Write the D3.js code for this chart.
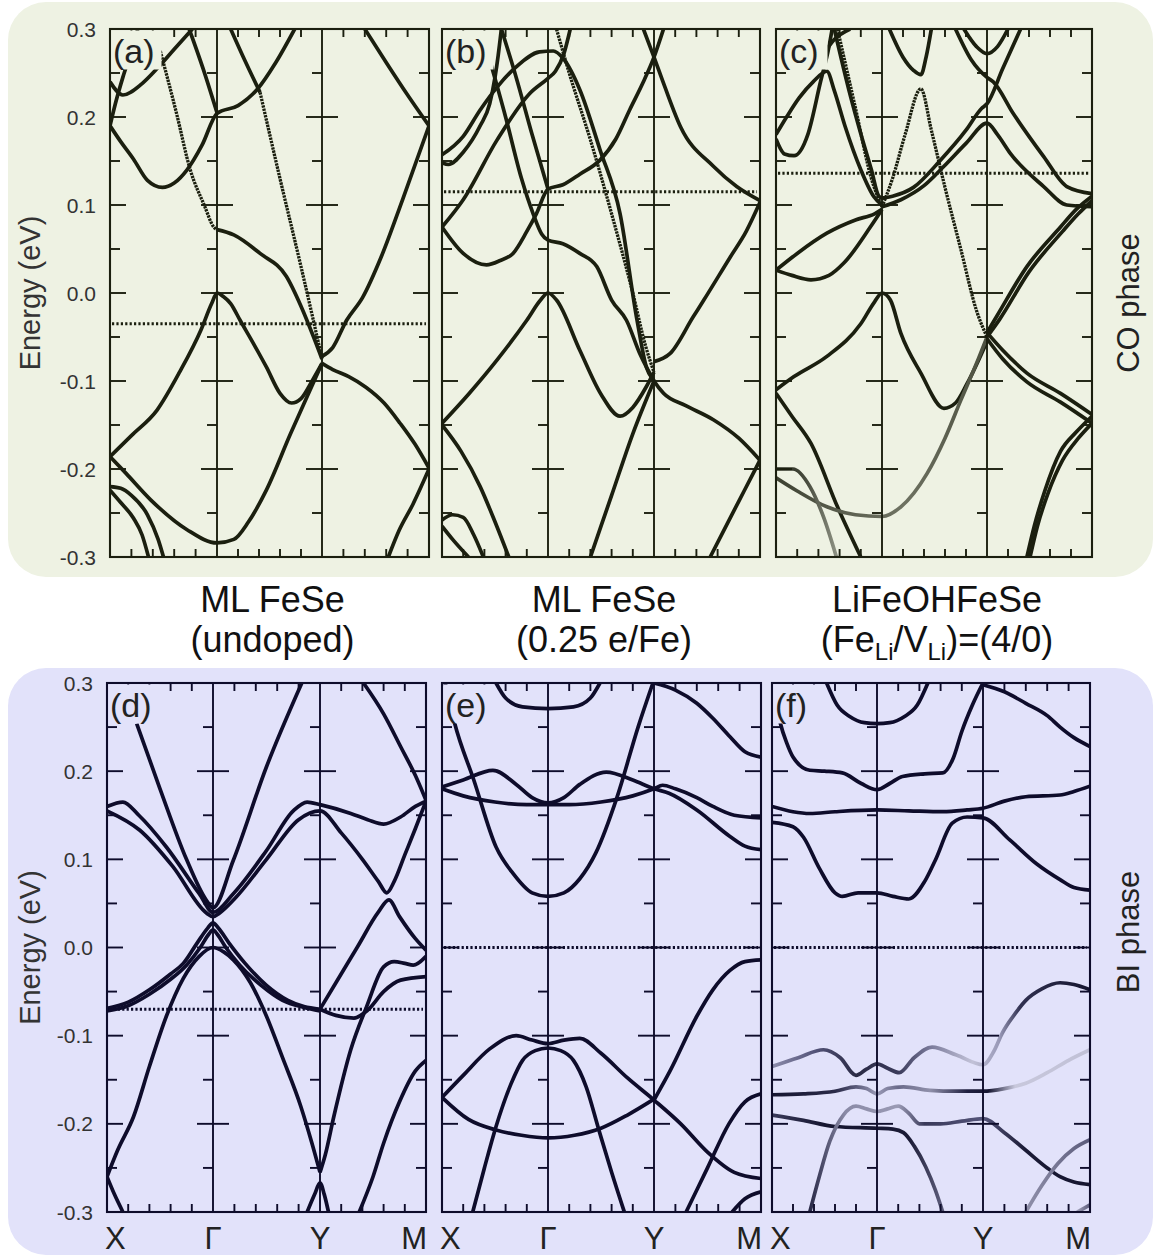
<!DOCTYPE html>
<html lang="en">
<head>
<meta charset="UTF-8">
<title>FeSe band structures, CO and BI phases</title>
<script src="https://d3js.org/d3.v7.min.js"></script>
<style>
  body { margin: 0; background: #fff; font-family: "Liberation Sans", Arial, sans-serif; }
</style>
</head>
<body>
<svg id="chart" width="1154" height="1257"></svg>
<script>
// ---- text and tick values ----
const kLabels = ["X", "Γ", "Y", "M"];
const yTickValues = [-0.3, -0.2, -0.1, 0.0, 0.1, 0.2, 0.3];
const yTickLabels = ["-0.3", "-0.2", "-0.1", "0.0", "0.1", "0.2", "0.3"];
const panelLabels = ["(a)", "(b)", "(c)", "(d)", "(e)", "(f)"];
const titleLine1 = ["ML FeSe", "ML FeSe", "LiFeOHFeSe"];
const titleLine2 = ["(undoped)", "(0.25 e/Fe)", "(Fe|Li|/V|Li|)=(4/0)"];
const phaseNames = ["CO phase", "BI phase"];
const fermiLevels = [-0.035, 0.115, 0.136, -0.07, 0.0, 0.0];

// ---- bands, [k, E] with k: X=0, Γ=1, Y=2, M=3 ----
const bandsA = [
  [[0,0.19],[0.1,0.172],[0.22,0.152],[0.35,0.128],[0.49,0.12],[0.6,0.125],[0.72,0.14],[0.86,0.168],[1,0.204],[1.2,0.213],[1.38,0.231],[1.56,0.262],[1.74,0.3]],
  [[0,0.24],[0.12,0.225],[0.3,0.238],[0.44,0.255],[0.6,0.277],[0.77,0.3]],
  [[0,0.19],[0.05,0.215],[0.12,0.245],[0.2,0.275],[0.26,0.3]],
  [[0.74,0.3],[0.87,0.255],[1,0.205]],
  [[0.47,0.275],[0.62,0.205],[0.75,0.14],[0.88,0.1],[0.97,0.075],[1,0.072]],
  [[1,0.072],[1.16,0.066],[1.41,0.045],[1.66,0.019],[1.8,-0.015],[1.92,-0.05],[2,-0.075]],
  [[1.13,0.3],[1.27,0.263],[1.41,0.228]],
  [[1.41,0.228],[1.6,0.13],[1.8,0.03],[1.91,-0.027],[2,-0.075]],
  [[0,-0.186],[0.2,-0.162],[0.44,-0.133],[0.65,-0.09],[0.85,-0.042],[0.95,-0.012],[1,0],[1.06,-0.004],[1.13,-0.012],[1.22,-0.031],[1.35,-0.058],[1.47,-0.084],[1.6,-0.114],[1.71,-0.125],[1.8,-0.12],[1.91,-0.099],[2,-0.08]],
  [[0,-0.186],[0.15,-0.205],[0.38,-0.235],[0.72,-0.269],[1,-0.284],[1.16,-0.28],[1.3,-0.26],[1.47,-0.224],[1.7,-0.16],[1.85,-0.12],[2,-0.08]],
  [[0,-0.22],[0.1,-0.222],[0.2,-0.23],[0.35,-0.252],[0.45,-0.28],[0.5,-0.3]],
  [[0,-0.224],[0.1,-0.238],[0.22,-0.256],[0.3,-0.275],[0.36,-0.3]],
  [[2,-0.072],[2.1,-0.062],[2.23,-0.031],[2.38,-0.005],[2.55,0.04],[2.75,0.105],[3,0.19]],
  [[2.4,0.3],[2.6,0.262],[2.8,0.225],[3,0.19]],
  [[2,-0.08],[2.1,-0.087],[2.25,-0.095],[2.41,-0.107],[2.58,-0.125],[2.73,-0.148],[2.87,-0.172],[3,-0.199]],
  [[2.62,-0.3],[2.72,-0.27],[2.85,-0.24],[3,-0.2]]
];
const bandsB = [
  [[0,0.075],[0.2,0.045],[0.42,0.032],[0.55,0.037],[0.67,0.045],[0.8,0.07],[0.89,0.09],[1,0.118],[1.14,0.123],[1.3,0.135],[1.49,0.151],[1.64,0.175],[1.77,0.208],[1.9,0.24],[2,0.268],[2.09,0.3]],
  [[0,0.075],[0.2,0.106],[0.52,0.174],[0.83,0.227],[1,0.244],[1.07,0.252],[1.15,0.272],[1.21,0.3]],
  [[0,0.157],[0.2,0.178],[0.36,0.208],[0.52,0.234],[0.7,0.257],[0.92,0.274],[1.05,0.275],[1.14,0.267],[1.3,0.231],[1.49,0.163],[1.68,0.09],[1.84,-0.031],[1.93,-0.085],[2,-0.1],[2.09,-0.114],[2.3,-0.128],[2.56,-0.144],[2.8,-0.165],[3,-0.19]],
  [[0,0.148],[0.06,0.146],[0.2,0.16],[0.36,0.19],[0.45,0.215],[0.5,0.245],[0.53,0.27],[0.56,0.3]],
  [[0.56,0.3],[0.7,0.245],[0.85,0.18],[1,0.118]],
  [[0.45,0.265],[0.6,0.2],[0.75,0.13],[0.86,0.09],[0.94,0.067],[1,0.06],[1.14,0.056],[1.3,0.045],[1.46,0.03],[1.6,-0.008],[1.74,-0.031],[1.87,-0.07],[2,-0.1]],
  [[1.08,0.3],[1.2,0.25],[1.4,0.174],[1.6,0.09],[1.8,0.0],[1.92,-0.06],[2,-0.09]],
  [[0,-0.148],[0.25,-0.115],[0.52,-0.076],[0.8,-0.031],[0.93,-0.008],[1,0],[1.08,-0.008],[1.3,-0.065],[1.5,-0.115],[1.68,-0.14],[1.8,-0.13],[1.93,-0.106],[2,-0.09]],
  [[0,-0.15],[0.18,-0.18],[0.36,-0.22],[0.5,-0.26],[0.63,-0.3]],
  [[1.4,-0.3],[1.6,-0.23],[1.8,-0.16],[2,-0.1]],
  [[0,-0.258],[0.1,-0.252],[0.2,-0.255],[0.3,-0.275],[0.39,-0.3]],
  [[0,-0.265],[0.1,-0.28],[0.25,-0.3]],
  [[2,-0.078],[2.15,-0.069],[2.37,-0.027],[2.47,-0.008],[2.72,0.041],[2.87,0.07],[3,0.103]],
  [[1.9,0.3],[2,0.268],[2.1,0.235],[2.25,0.189],[2.56,0.144],[2.78,0.121],[3,0.105]],
  [[2.53,-0.3],[2.7,-0.26],[2.85,-0.225],[3,-0.19]]
];
const bandsC = [
  [[0,-0.11],[0.17,-0.095],[0.48,-0.072],[0.8,-0.035],[0.93,-0.01],[1,0],[1.08,-0.008],[1.18,-0.046],[1.37,-0.091],[1.59,-0.131],[1.7,-0.125],[1.81,-0.103],[2,-0.055]],
  [[0,-0.114],[0.15,-0.14],[0.33,-0.171],[0.58,-0.243],[0.8,-0.3]],
  [[0,-0.21],[0.2,-0.225],[0.48,-0.243],[0.75,-0.252],[1,-0.254],[1.18,-0.243],[1.43,-0.205],[1.6,-0.165],[1.75,-0.122],[1.9,-0.08],[2,-0.05]],
  [[0,-0.2],[0.16,-0.2],[0.32,-0.22],[0.45,-0.255],[0.57,-0.3]],
  [[0,0.026],[0.15,0.02],[0.33,0.015],[0.5,0.02],[0.64,0.034],[0.89,0.075],[1,0.095]],
  [[0,0.026],[0.2,0.045],[0.48,0.068],[0.75,0.083],[0.93,0.09],[1,0.095]],
  [[1,0.098],[1.18,0.106],[1.4,0.122],[1.59,0.144],[1.8,0.17],[2,0.193],[2.1,0.18],[2.22,0.159],[2.54,0.121],[2.76,0.1],[3,0.098]],
  [[0.55,0.3],[0.7,0.225],[0.8,0.181],[0.9,0.14],[0.97,0.11],[1,0.108],[1.1,0.11],[1.3,0.12],[1.55,0.15],[1.8,0.185],[1.95,0.21],[2,0.215],[2.15,0.255],[2.32,0.3]],
  [[0.58,0.3],[0.75,0.21],[0.9,0.13],[1,0.098]],
  [[0,0.18],[0.1,0.2],[0.22,0.222],[0.35,0.24],[0.48,0.252],[0.55,0.23],[0.65,0.19],[0.8,0.14],[0.92,0.11],[1,0.1]],
  [[0,0.175],[0.08,0.158],[0.17,0.156],[0.3,0.18],[0.42,0.24],[0.5,0.28],[0.53,0.3]],
  [[0.44,0.27],[0.55,0.288],[0.7,0.3]],
  [[1.07,0.3],[1.2,0.268],[1.3,0.253],[1.37,0.248],[1.42,0.268],[1.47,0.3]],
  [[1,0.098],[1.1,0.13],[1.22,0.18],[1.37,0.232],[1.47,0.185],[1.6,0.12],[1.75,0.05],[1.9,-0.02],[2,-0.05]],
  [[1.78,0.3],[1.9,0.28],[2,0.272],[2.1,0.28],[2.2,0.3]],
  [[1.7,0.3],[1.85,0.265],[2,0.245],[2.06,0.24],[2.25,0.204],[2.54,0.155],[2.76,0.121],[3,0.113]],
  [[2,-0.045],[2.15,-0.065],[2.38,-0.091],[2.7,-0.114],[3,-0.138]],
  [[2,-0.052],[2.15,-0.075],[2.38,-0.101],[2.7,-0.124],[3,-0.148]],
  [[2.38,-0.3],[2.45,-0.265],[2.55,-0.225],[2.7,-0.18],[2.85,-0.158],[3,-0.14]],
  [[2.41,-0.3],[2.48,-0.265],[2.58,-0.228],[2.72,-0.19],[2.87,-0.165],[3,-0.148]],
  [[2,-0.045],[2.1,-0.025],[2.38,0.03],[2.7,0.075],[2.85,0.095],[3,0.11]],
  [[2,-0.05],[2.12,-0.03],[2.4,0.024],[2.72,0.07],[2.87,0.09],[3,0.105]]
];
const bandsD = [
  [[0,0.16],[0.15,0.165],[0.3,0.15],[0.56,0.114],[0.87,0.061],[1,0.04],[1.19,0.061],[1.5,0.11],[1.75,0.155],[1.88,0.165],[2,0.162],[2.29,0.152],[2.45,0.145],[2.6,0.14],[2.76,0.148],[2.9,0.16],[3,0.166]],
  [[0,0.155],[0.31,0.133],[0.62,0.092],[0.94,0.039],[1,0.035],[1.06,0.039],[1.2,0.055],[1.5,0.1],[1.8,0.145],[2,0.155],[2.2,0.13],[2.4,0.1],[2.55,0.075],[2.63,0.062],[2.7,0.075],[2.8,0.105],[2.9,0.135],[3,0.166]],
  [[0.28,0.254],[0.5,0.18],[0.75,0.1],[0.93,0.055],[1,0.045],[1.19,0.099],[1.5,0.205],[1.83,0.3]],
  [[2,-0.07],[2.15,-0.04],[2.35,0.0],[2.55,0.04],[2.65,0.054],[2.75,0.035],[2.9,0.01],[3,-0.003]],
  [[2,-0.07],[2.15,-0.077],[2.32,-0.08],[2.45,-0.071],[2.6,-0.05],[2.76,-0.037],[3,-0.033]],
  [[2,-0.255],[2.05,-0.235],[2.13,-0.192],[2.29,-0.116],[2.44,-0.067],[2.6,-0.022],[2.7,-0.016],[2.8,-0.018],[2.88,-0.02],[3,-0.01]],
  [[2.37,-0.3],[2.5,-0.26],[2.6,-0.222],[2.75,-0.175],[2.9,-0.14],[3,-0.128]],
  [[0,-0.26],[0.1,-0.23],[0.25,-0.192],[0.4,-0.135],[0.56,-0.078],[0.72,-0.035],[0.87,-0.01],[1,0],[1.1,-0.005],[1.19,-0.014],[1.35,-0.04],[1.5,-0.078],[1.65,-0.125],[1.82,-0.18],[1.92,-0.22],[2,-0.255]],
  [[0,-0.069],[0.2,-0.062],[0.4,-0.048],[0.6,-0.03],[0.72,-0.018],[0.85,0.005],[0.95,0.022],[1,0.028],[1.05,0.022],[1.15,0.005],[1.3,-0.018],[1.5,-0.043],[1.7,-0.06],[1.85,-0.067],[2,-0.07]],
  [[0,-0.072],[0.2,-0.066],[0.4,-0.053],[0.6,-0.036],[0.75,-0.02],[0.88,0.0],[0.96,0.015],[1,0.02],[1.04,0.015],[1.12,0.0],[1.25,-0.02],[1.45,-0.043],[1.65,-0.06],[1.85,-0.068],[2,-0.072]],
  [[0,-0.26],[0.07,-0.28],[0.15,-0.3]],
  [[1.88,-0.3],[1.95,-0.28],[2,-0.267],[2.04,-0.28],[2.08,-0.3]],
  [[2.41,0.3],[2.6,0.265],[2.76,0.228],[2.9,0.195],[3,0.167]]
];
const bandsE = [
  [[0.51,0.3],[0.6,0.283],[0.76,0.273],[1,0.271],[1.24,0.273],[1.4,0.283],[1.49,0.3]],
  [[0.03,0.3],[0.12,0.254],[0.3,0.19],[0.51,0.114],[0.67,0.084],[0.85,0.062],[1,0.058],[1.15,0.062],[1.3,0.078],[1.45,0.107],[1.65,0.17],[1.85,0.25],[1.99,0.3]],
  [[2,0.3],[2.2,0.292],[2.4,0.277],[2.55,0.26],[2.71,0.239],[2.85,0.222],[3,0.216]],
  [[0,0.182],[0.2,0.19],[0.48,0.201],[0.7,0.185],[0.85,0.17],[1,0.164],[1.15,0.17],[1.3,0.185],[1.55,0.199],[1.8,0.19],[2,0.18],[2.14,0.175],[2.4,0.156],[2.71,0.126],[2.85,0.115],[3,0.111]],
  [[0,0.18],[0.2,0.172],[0.5,0.165],[0.8,0.162],[1,0.162],[1.2,0.162],[1.5,0.165],[1.8,0.172],[2,0.18],[2.08,0.184],[2.2,0.18],[2.4,0.17],[2.55,0.16],[2.75,0.15],[3,0.147]],
  [[2,-0.173],[2.15,-0.14],[2.4,-0.078],[2.55,-0.048],[2.71,-0.026],[2.85,-0.016],[3,-0.014]],
  [[0,-0.17],[0.2,-0.145],[0.45,-0.115],[0.7,-0.1],[0.85,-0.105],[1,-0.109],[1.15,-0.105],[1.3,-0.103],[1.5,-0.12],[1.75,-0.148],[2,-0.173],[2.25,-0.2],[2.5,-0.232],[2.75,-0.255],[3,-0.262]],
  [[0,-0.17],[0.25,-0.195],[0.51,-0.207],[0.75,-0.213],[1,-0.216],[1.25,-0.213],[1.5,-0.205],[1.75,-0.19],[2,-0.172]],
  [[0.29,-0.3],[0.4,-0.25],[0.51,-0.203],[0.65,-0.155],[0.76,-0.128],[0.88,-0.117],[1,-0.114],[1.12,-0.117],[1.24,-0.128],[1.36,-0.158],[1.48,-0.207],[1.6,-0.255],[1.72,-0.3]],
  [[2.3,-0.3],[2.5,-0.25],[2.7,-0.2],[2.85,-0.175],[3,-0.166]],
  [[2.73,-0.3],[2.85,-0.285],[3,-0.277]]
];
const bandsF = [
  [[0.52,0.3],[0.62,0.275],[0.74,0.262],[0.88,0.255],[1,0.254],[1.12,0.255],[1.26,0.262],[1.38,0.275],[1.48,0.3]],
  [[0.05,0.27],[0.08,0.254],[0.14,0.232],[0.2,0.216],[0.36,0.201],[0.5,0.2],[0.67,0.198],[0.85,0.186],[1,0.179],[1.12,0.186],[1.24,0.194],[1.45,0.197],[1.62,0.198],[1.72,0.215],[1.8,0.245],[1.9,0.275],[2,0.3]],
  [[2,0.298],[2.2,0.29],[2.4,0.277],[2.6,0.263],[2.72,0.25],[2.85,0.238],[3,0.228]],
  [[0,0.16],[0.2,0.154],[0.36,0.152],[0.6,0.154],[1,0.156],[1.3,0.155],[1.62,0.154],[1.85,0.156],[2,0.158],[2.2,0.166],[2.4,0.171],[2.72,0.173],[2.85,0.177],[3,0.183]],
  [[0,0.142],[0.2,0.137],[0.3,0.125],[0.45,0.09],[0.6,0.062],[0.67,0.058],[0.82,0.062],[1,0.062],[1.15,0.058],[1.3,0.055],[1.45,0.075],[1.55,0.099],[1.71,0.141],[1.85,0.148],[2,0.147],[2.25,0.122],[2.5,0.095],[2.72,0.077],[2.85,0.068],[3,0.065]],
  [[0,-0.135],[0.25,-0.125],[0.49,-0.116],[0.65,-0.125],[0.8,-0.145],[0.9,-0.138],[1,-0.132],[1.1,-0.137],[1.21,-0.142],[1.35,-0.125],[1.52,-0.113],[1.75,-0.122],[2,-0.133],[2.1,-0.118],[2.18,-0.097],[2.3,-0.075],[2.4,-0.06],[2.55,-0.047],[2.72,-0.04],[2.85,-0.042],[3,-0.048]],
  [[0,-0.167],[0.3,-0.166],[0.6,-0.163],[0.8,-0.158],[0.9,-0.16],[1,-0.166],[1.1,-0.16],[1.25,-0.158],[1.5,-0.162],[1.75,-0.163],[2,-0.163],[2.2,-0.16],[2.4,-0.154],[2.6,-0.142],[2.8,-0.128],[3,-0.116]],
  [[0,-0.19],[0.3,-0.196],[0.6,-0.203],[1,-0.205],[1.15,-0.206],[1.25,-0.21],[1.35,-0.225],[1.46,-0.249],[1.55,-0.275],[1.62,-0.3]],
  [[0.36,-0.3],[0.45,-0.26],[0.55,-0.22],[0.68,-0.19],[0.8,-0.18],[0.9,-0.183],[1,-0.186],[1.1,-0.183],[1.2,-0.18],[1.3,-0.188],[1.4,-0.2],[1.6,-0.2],[1.8,-0.197],[2,-0.194],[2.2,-0.21],[2.4,-0.23],[2.6,-0.25],[2.72,-0.26],[2.85,-0.266],[3,-0.269]],
  [[2.4,-0.3],[2.55,-0.27],[2.7,-0.245],[2.85,-0.228],[3,-0.218]],
  [[2.88,-0.3],[3,-0.292]]
];

// ---- styling per band (kept apart from values) ----
const dotted = [[4, 7], [6], [8, 13], [], [], []];
// colour ramps along k for the faded (projected-weight) bands
const ramps = [
  {}, {},
  { 2: [[0,"#3c4030"],[0.6,"#5a5e4e"],[1.2,"#6e7262"],[2,"#4c503f"]],
    3: [[0,"#23271a"],[0.3,"#4a4e40"],[0.57,"#8c9082"]] },
  {}, {},
  { 5: [[0,"#8c8cab"],[0.4,"#55557a"],[0.8,"#2a2a45"],[1.2,"#3a3a5a"],[1.5,"#7a7a9a"],[1.9,"#c2c2d8"],[2.15,"#9a9ab8"],[2.35,"#303050"],[3,"#161630"]],
    6: [[0,"#151530"],[0.6,"#2a2a48"],[0.8,"#5a5a7a"],[1,"#9a9ab6"],[1.2,"#6a6a8a"],[1.5,"#9090aa"],[1.85,"#202040"],[2.05,"#151530"],[2.3,"#c8c8dc"],[3,"#c0c0d6"]],
    7: [[0,"#3a3a5a"],[0.5,"#151530"],[1.3,"#1a1a35"],[1.6,"#5a5a78"]],
    8: [[0.36,"#2a2a48"],[0.7,"#8a8aa6"],[1.2,"#9a9ab4"],[1.45,"#3a3a5a"],[2,"#55557a"],[2.4,"#1a1a35"],[3,"#151530"]],
    9: [[2.4,"#9090aa"],[3,"#5a5a7a"]],
    10: [[2.88,"#a0a0b8"],[3,"#5a5a7a"]] }
];

const allBands = [bandsA, bandsB, bandsC, bandsD, bandsE, bandsF];

// ---- layout ----
const rows = [
  { bg: "#eef2e3", ink: "#1b1f0f", top: 29, bottom: 557, box: [8, 2, 1145, 575], mid: 303 },
  { bg: "#e2e2fa", ink: "#0e0c2b", top: 683, bottom: 1212, box: [8, 668, 1145, 587], mid: 932 }
];
const panelX = [
  [110, 217, 322, 429], [442, 548, 654, 760], [776, 882, 987, 1092],
  [107, 213, 320, 426], [442, 548, 654, 761], [772, 877, 983, 1090]
];

const svg = d3.select("#chart");
const defs = svg.append("defs");

rows.forEach(r => {
  svg.append("rect")
    .attr("x", r.box[0]).attr("y", r.box[1])
    .attr("width", r.box[2]).attr("height", r.box[3])
    .attr("rx", 38).attr("fill", r.bg);
});

const majorTicks = yTickValues.slice(1, -1);
const minorTicks = d3.pairs(yTickValues).map(p => (p[0] + p[1]) / 2);

allBands.forEach((bands, i) => {
  const row = rows[i < 3 ? 0 : 1];
  const xs = panelX[i];
  const x = d3.scaleLinear().domain([0, 1, 2, 3]).range(xs);
  const y = d3.scaleLinear().domain([-0.3, 0.3]).range([row.bottom, row.top]);
  const left = xs[0], right = xs[3];
  const g = svg.append("g");

  defs.append("clipPath").attr("id", "clip" + i)
    .append("rect")
    .attr("x", left).attr("y", row.top)
    .attr("width", right - left).attr("height", row.bottom - row.top);

  g.append("rect")
    .attr("x", left).attr("y", row.top)
    .attr("width", right - left).attr("height", row.bottom - row.top)
    .attr("fill", row.bg);

  // fermi level
  g.append("line")
    .attr("x1", left + 2).attr("x2", right - 3)
    .attr("y1", y(fermiLevels[i])).attr("y2", y(fermiLevels[i]))
    .attr("stroke", row.ink).attr("stroke-width", 3)
    .attr("stroke-dasharray", "2.2,2.2");

  // bands
  const line = d3.line()
    .x(d => x(d[0])).y(d => y(d[1]))
    .curve(d3.curveMonotoneX);
  const bandLayer = g.append("g").attr("clip-path", `url(#clip${i})`);
  bands.forEach((band, j) => {
    let stroke = row.ink;
    const ramp = ramps[i][j];
    if (ramp) {
      const id = `ramp${i}_${j}`;
      const grad = defs.append("linearGradient").attr("id", id)
        .attr("gradientUnits", "userSpaceOnUse")
        .attr("x1", left).attr("x2", right).attr("y1", 0).attr("y2", 0);
      ramp.forEach(s => grad.append("stop")
        .attr("offset", (x(s[0]) - left) / (right - left))
        .attr("stop-color", s[1]));
      stroke = `url(#${id})`;
    }
    const isDot = dotted[i].includes(j);
    bandLayer.append("path")
      .datum(band.slice().sort((a, b) => a[0] - b[0]))
      .attr("d", line)
      .attr("fill", "none")
      .attr("stroke", stroke)
      .attr("stroke-width", isDot ? 3.3 : 3.7)
      .attr("stroke-dasharray", isDot ? "2.4,0.9" : null)
      .attr("stroke-linejoin", "round");
  });

  // high-symmetry verticals
  g.selectAll(".kline").data([1, 2]).join("line")
    .attr("x1", d => x(d)).attr("x2", d => x(d))
    .attr("y1", row.top).attr("y2", row.bottom)
    .attr("stroke", row.ink).attr("stroke-width", 1.9);

  // energy ticks on each vertical boundary
  const tickLayer = g.append("g").attr("stroke", row.ink).attr("stroke-width", 1.9);
  [0, 1, 2, 3].forEach(k => {
    const xp = x(k);
    majorTicks.forEach(v => {
      if (k < 3) tickLayer.append("line").attr("x1", xp).attr("x2", xp + 16).attr("y1", y(v)).attr("y2", y(v));
      if (k > 0) tickLayer.append("line").attr("x1", xp - 16).attr("x2", xp).attr("y1", y(v)).attr("y2", y(v));
    });
    minorTicks.forEach(v => {
      const dx = k === 0 ? 10 : -10;
      tickLayer.append("line").attr("x1", xp).attr("x2", xp + dx).attr("y1", y(v)).attr("y2", y(v));
    });
  });
  // k ticks on top and bottom
  [0, 1, 2].forEach(s => {
    [0.2, 0.4, 0.6, 0.8].forEach(f => {
      const xp = x(s + f);
      tickLayer.append("line").attr("x1", xp).attr("x2", xp).attr("y1", row.top).attr("y2", row.top + 8);
      tickLayer.append("line").attr("x1", xp).attr("x2", xp).attr("y1", row.bottom).attr("y2", row.bottom - 8);
    });
  });

  // frame
  g.append("rect")
    .attr("x", left).attr("y", row.top)
    .attr("width", right - left).attr("height", row.bottom - row.top)
    .attr("fill", "none").attr("stroke", row.ink).attr("stroke-width", 2.1);

  // panel label with a small masking box
  g.append("rect")
    .attr("x", left + 1.5).attr("y", row.top + 1.5)
    .attr("width", 50).attr("height", 39)
    .attr("fill", row.bg);
  g.append("text")
    .attr("x", left + 3).attr("y", row.top + 34)
    .attr("font-size", 34).attr("fill", "#222")
    .text(panelLabels[i]);

  // energy axis labels on the first column
  if (i === 0 || i === 3) {
    g.selectAll(".ylab").data(yTickValues).join("text")
      .attr("x", left - 14).attr("y", d => y(d))
      .attr("dy", "0.36em")
      .attr("text-anchor", "end")
      .attr("font-size", 21).attr("fill", "#333")
      .text((d, n) => yTickLabels[n]);
    g.append("text")
      .attr("transform", `translate(40,${(row.top + row.bottom) / 2}) rotate(-90)`)
      .attr("text-anchor", "middle")
      .attr("font-size", 29).attr("fill", "#333")
      .text("Energy (eV)");
  }

  // k-point names under the lower row
  if (i >= 3) {
    g.selectAll(".klab").data(kLabels).join("text")
      .attr("x", (d, n) => n === 0 ? left - 2 : n === 3 ? right + 1 : x(n))
      .attr("y", 1249)
      .attr("text-anchor", (d, n) => n === 0 ? "start" : n === 3 ? "end" : "middle")
      .attr("font-size", 31).attr("fill", "#222")
      .text(d => d);
  }

  // titles between the rows
  if (i < 3) {
    const cx = (left + right) / 2 + 3;
    svg.append("text")
      .attr("x", cx).attr("y", 612)
      .attr("text-anchor", "middle").attr("font-size", 36).attr("fill", "#111")
      .text(titleLine1[i]);
    const t2 = svg.append("text")
      .attr("x", cx).attr("y", 652)
      .attr("text-anchor", "middle").attr("font-size", 36).attr("fill", "#111");
    titleLine2[i].split("|").forEach((part, n) => {
      const sub = n % 2 === 1;
      t2.append("tspan")
        .attr("font-size", sub ? 24 : 36)
        .attr("dy", sub ? 8 : (n > 0 ? -8 : 0))
        .text(part);
    });
  }
});

// phase labels on the right
rows.forEach((r, n) => {
  svg.append("text")
    .attr("transform", `translate(1139,${r.mid}) rotate(-90)`)
    .attr("text-anchor", "middle")
    .attr("font-size", 31).attr("fill", "#222")
    .text(phaseNames[n]);
});
</script>
</body>
</html>
